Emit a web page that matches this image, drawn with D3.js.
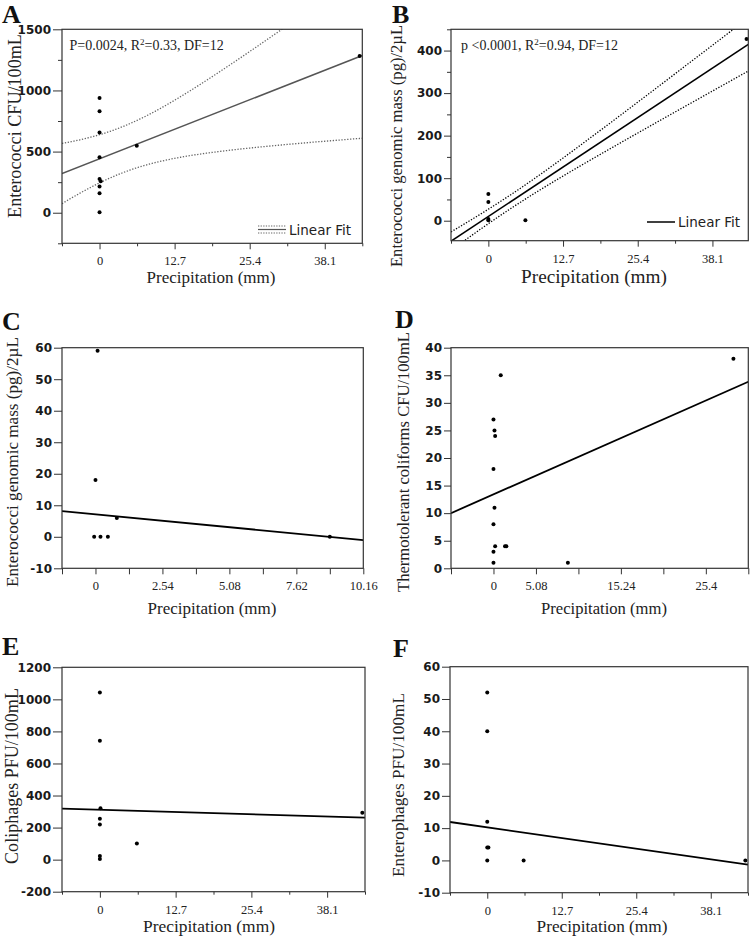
<!DOCTYPE html>
<html><head><meta charset="utf-8">
<script src="https://cdn.jsdelivr.net/npm/d3@7"></script>
<style>body{margin:0;background:#fff}svg{display:block}</style>
</head><body>
<svg id="chart" width="750" height="937"></svg>
<script>
// ---------- Panel A ----------
const precipA = [0, 0, 0, 0, 0, 0.2, 0, 0, 0, 6.3, 44.0];
const enteroCfuA = [939, 829, 657, 453, 276, 257, 215, 160, 3, 547, 1282];
const fitA = [441, 19.0];            // intercept, slope
const bandA = [188.5, 253, 3.6];     // half-width at mean, spread term, mean x
const yTicksA = [0, 500, 1000, 1500];
const yMinorA = [-250, 250, 750, 1250];
const xTicksA = [0, 12.7, 25.4, 38.1];
const xMinorA = [-6.35, 6.35, 19.05, 31.75, 44.45];

// ---------- Panel B ----------
const precipB = [0, 0, 0, 0, 6.3, 43.9];
const genomicB = [63, 44, 4, 1, 1, 427];
const fitB = [10, 9.15];
const bandB = [16.2, 2.2, 3.5];
const yTicksB = [0, 100, 200, 300, 400];
const yMinorB = [50, 150, 250, 350, 450];
const xTicksB = [0, 12.7, 25.4, 38.1];
const xMinorB = [-6.35, 6.35, 19.05, 31.75];

// ---------- Panel C ----------
const precipC = [-0.05, 0.19, 0.47, 0, 0.08, 0.81, 8.89];
const genomicC = [0, 0, 0, 18, 59, 6, 0];
const fitC = [7.1, -0.80];
const yTicksC = [-10, 0, 10, 20, 30, 40, 50, 60];
const xTicksC = [0, 2.54, 5.08, 7.62, 10.16];
const xMinorC = [-1.27, 1.27, 3.81, 6.35, 8.89];

// ---------- Panel D ----------
const precipD = [0, 0, 0, 0.12, 0, 0, 0.12, 0.2, 0.2, 0.87, 1.38, 1.54, 8.9, 28.7];
const thermoD = [1, 3, 8, 11, 18, 27, 25, 24, 4, 35, 4, 4, 1, 38];
const fitD = [13.4, 0.67];
const yTicksD = [0, 5, 10, 15, 20, 25, 30, 35, 40];
const xTicksD = [0, 5.08, 15.24, 25.4];
const xMinorD = [-5.08, 10.16, 20.32, 30.48];

// ---------- Panel E ----------
const precipE = [0, 0, 0.1, 0, 0, 0, 0, 6.2, 44.0];
const coliE = [1043, 741, 320, 255, 220, 23, 4, 100, 293];
const fitE = [311, -1.1];
const yTicksE = [-200, 0, 200, 400, 600, 800, 1000, 1200];
const xTicksE = [0, 12.7, 25.4, 38.1];
const xMinorE = [-6.35, 6.35, 19.05, 31.75, 44.45];

// ---------- Panel F ----------
const precipF = [0, 0, 0, 0, 0.2, 0, 6.2, 44.0];
const enterophF = [52, 40, 12, 4, 4, 0, 0, 0];
const fitF = [10.25, -0.26];
const yTicksF = [-10, 0, 10, 20, 30, 40, 50, 60];
const xTicksF = [0, 12.7, 25.4, 38.1];
const xMinorF = [-6.35, 6.35, 19.05, 31.75, 44.45];

const xTitle = "Precipitation (mm)";

const svg = d3.select("#chart");
const SERIF = "'Liberation Serif','Times New Roman',serif";
const SANS = "'DejaVu Sans',Verdana,sans-serif";

// scale a text's font size so that it spans the given length
function fitText(sel, target) {
  const n = sel.node();
  const fs = parseFloat(sel.attr("font-size"));
  const len = n.getComputedTextLength();
  if (len > 0) sel.attr("font-size", (fs * target / len).toFixed(2));
}

let clipId = 0;
function panel(cfg) {
  const g = svg.append("g");
  const x = d3.scaleLinear().domain(cfg.xDomain).range([cfg.fx0, cfg.fx1]);
  const y = d3.scaleLinear().domain(cfg.yDomain).range([cfg.fy1, cfg.fy0]);
  const id = "clip" + (clipId++);
  g.append("clipPath").attr("id", id).append("rect")
    .attr("x", cfg.fx0).attr("y", cfg.fy0)
    .attr("width", cfg.fx1 - cfg.fx0).attr("height", cfg.fy1 - cfg.fy0);

  const ya = g.append("g").attr("transform", `translate(${cfg.fx0},0)`)
    .call(d3.axisLeft(y).tickValues(cfg.yTicks).tickSize(cfg.yTickLen).tickPadding(2)
      .tickFormat(d => String(d)));
  ya.select(".domain").remove();
  ya.selectAll("text").attr("font-family", SANS).attr("font-weight", "bold")
    .attr("font-size", 12).attr("fill", "#1a1a1a");
  ya.selectAll("line").attr("stroke", "#333");
  if (cfg.yMinor) {
    const ym = g.append("g").attr("transform", `translate(${cfg.fx0},0)`)
      .call(d3.axisLeft(y).tickValues(cfg.yMinor).tickSize(4).tickFormat(""));
    ym.select(".domain").remove();
    ym.selectAll("line").attr("stroke", "#333");
  }
  const xa = g.append("g").attr("transform", `translate(0,${cfg.fy1})`)
    .call(d3.axisBottom(x).tickValues(cfg.xTicks).tickSize(6).tickPadding(7)
      .tickFormat(d => String(d)));
  xa.select(".domain").remove();
  xa.selectAll("text").attr("font-family", SERIF).attr("font-size", 12.5).attr("fill", "#222");
  xa.selectAll("line").attr("stroke", "#333");
  const xm = g.append("g").attr("transform", `translate(0,${cfg.fy1})`)
    .call(d3.axisBottom(x).tickValues(cfg.xMinor).tickSize(cfg.xMinorLen).tickFormat(""));
  xm.select(".domain").remove();
  xm.selectAll("line").attr("stroke", "#333");

  const lineCol = cfg.lineCol || "#000";
  if (cfg.band) {
    const [h0, b, xm0] = cfg.band;
    const xs = d3.range(0, 201).map(i => cfg.xDomain[0] + (cfg.xDomain[1] - cfg.xDomain[0]) * i / 200);
    const fit = v => cfg.fit[0] + cfg.fit[1] * v;
    const hw = v => Math.sqrt(h0 * h0 + b * (v - xm0) * (v - xm0));
    [1, -1].forEach(s => {
      g.append("path").attr("clip-path", `url(#${id})`)
        .attr("d", d3.line().x(v => x(v)).y(v => y(fit(v) + s * hw(v)))(xs))
        .attr("fill", "none").attr("stroke", cfg.bandCol || "#000")
        .attr("stroke-width", 1.3).attr("stroke-dasharray", "1.3,1.6");
    });
  }
  g.append("line").attr("clip-path", `url(#${id})`)
    .attr("x1", x(cfg.xDomain[0])).attr("y1", y(cfg.fit[0] + cfg.fit[1] * cfg.xDomain[0]))
    .attr("x2", x(cfg.xDomain[1])).attr("y2", y(cfg.fit[0] + cfg.fit[1] * cfg.xDomain[1]))
    .attr("stroke", lineCol).attr("stroke-width", cfg.lineW || 1.8);

  g.selectAll("circle.pt").data(cfg.xs.map((v, i) => [v, cfg.ys[i]])).join("circle")
    .attr("class", "pt").attr("cx", d => x(d[0])).attr("cy", d => y(d[1]))
    .attr("r", 2).attr("fill", "#000");

  g.append("rect").attr("x", cfg.fx0).attr("y", cfg.fy0)
    .attr("width", cfg.fx1 - cfg.fx0).attr("height", cfg.fy1 - cfg.fy0)
    .attr("fill", "none").attr("stroke", "#333").attr("stroke-width", 1.2);

  const yt = g.append("text").attr("transform", `translate(${cfg.ytX},${cfg.ytY}) rotate(-90)`)
    .attr("text-anchor", "middle").attr("font-family", SERIF).attr("font-size", 17)
    .attr("fill", "#222").text(cfg.yTitle);
  fitText(yt, cfg.ytLen);
  const xt = g.append("text").attr("x", cfg.xtX).attr("y", cfg.xtY).attr("text-anchor", "middle")
    .attr("font-family", SERIF).attr("font-size", 17).attr("fill", "#222").text(xTitle);
  fitText(xt, cfg.xtLen);
  g.append("text").attr("x", cfg.letterX).attr("y", cfg.letterY)
    .attr("font-family", SERIF).attr("font-weight", "bold").attr("font-size", 26)
    .attr("fill", "#111").text(cfg.letter);

  if (cfg.stat) {
    const t = g.append("text").attr("x", cfg.statX).attr("y", cfg.statY)
      .attr("font-family", SERIF).attr("font-size", 14).attr("fill", "#222");
    t.append("tspan").text(cfg.stat[0]);
    t.append("tspan").attr("dy", -5).attr("font-size", 9).text("2");
    t.append("tspan").attr("dy", 5).text(cfg.stat[1]);
  }
  if (cfg.legend) {
    const L = cfg.legend;
    if (L.band) {
      g.append("line").attr("x1", L.x0).attr("x2", L.x1).attr("y1", L.y - 3.5).attr("y2", L.y - 3.5)
        .attr("stroke", cfg.bandCol).attr("stroke-width", 1.2).attr("stroke-dasharray", "1.3,1.3");
      g.append("line").attr("x1", L.x0).attr("x2", L.x1).attr("y1", L.y).attr("y2", L.y)
        .attr("stroke", lineCol).attr("stroke-width", 1.2);
      g.append("line").attr("x1", L.x0).attr("x2", L.x1).attr("y1", L.y + 3.5).attr("y2", L.y + 3.5)
        .attr("stroke", cfg.bandCol).attr("stroke-width", 1.2).attr("stroke-dasharray", "1.3,1.3");
    } else {
      g.append("line").attr("x1", L.x0).attr("x2", L.x1).attr("y1", L.y).attr("y2", L.y)
        .attr("stroke", lineCol).attr("stroke-width", 1.5);
    }
    g.append("text").attr("x", L.x1 + 3).attr("y", L.y + 5).attr("font-family", SANS)
      .attr("font-size", 13.5).attr("fill", "#222").text("Linear Fit");
  }
}

panel({letter: "A", letterX: 2, letterY: 23.3,
  fx0: 62, fx1: 362.3, fy0: 29.3, fy1: 243.3,
  xDomain: [-6.35, 44.45], yDomain: [-250, 1500],
  xs: precipA, ys: enteroCfuA, fit: fitA, band: bandA, lineCol: "#555", bandCol: "#666", lineW: 1.5,
  yTicks: yTicksA, yMinor: yMinorA, yTickLen: 9, xTicks: xTicksA, xMinor: xMinorA, xMinorLen: 3,
  yTitle: "Enterococci CFU/100mL", ytX: 21, ytY: 126, ytLen: 184,
  xtX: 211, xtY: 283, xtLen: 129,
  stat: ["P=0.0024, R", "=0.33, DF=12"], statX: 69.5, statY: 50,
  legend: {band: true, x0: 258, x1: 286, y: 229.5}});

panel({letter: "B", letterX: 392, letterY: 23.3,
  fx0: 451, fx1: 748.3, fy0: 29.3, fy1: 240.7,
  xDomain: [-6.35, 44.2], yDomain: [-47, 450],
  xs: precipB, ys: genomicB, fit: fitB, band: bandB, lineCol: "#000", bandCol: "#000", lineW: 1.6,
  yTicks: yTicksB, yMinor: yMinorB, yTickLen: 7, xTicks: xTicksB, xMinor: xMinorB, xMinorLen: 3,
  yTitle: "Enterococci genomic mass (pg)/2\u00b5L", ytX: 402, ytY: 146, ytLen: 242,
  xtX: 594, xtY: 283, xtLen: 146,
  stat: ["p <0.0001, R", "=0.94, DF=12"], statX: 461, statY: 49.5,
  legend: {band: false, x0: 647, x1: 675, y: 222}});

panel({letter: "C", letterX: 2, letterY: 330,
  fx0: 62, fx1: 363.3, fy0: 347.7, fy1: 568.3,
  xDomain: [-1.27, 10.16], yDomain: [-10, 60],
  xs: precipC, ys: genomicC, fit: fitC,
  yTicks: yTicksC, yTickLen: 8, xTicks: xTicksC, xMinor: xMinorC, xMinorLen: 6,
  yTitle: "Enterococci genomic mass (pg)/2\u00b5L", ytX: 18, ytY: 462, ytLen: 250,
  xtX: 212, xtY: 614, xtLen: 129});

panel({letter: "D", letterX: 395, letterY: 328,
  fx0: 451, fx1: 748.3, fy0: 347.7, fy1: 568.3,
  xDomain: [-5.08, 30.48], yDomain: [0, 40],
  xs: precipD, ys: thermoD, fit: fitD,
  yTicks: yTicksD, yTickLen: 7, xTicks: xTicksD, xMinor: xMinorD, xMinorLen: 6,
  yTitle: "Thermotolerant coliforms CFU/100mL", ytX: 409, ytY: 462, ytLen: 260,
  xtX: 604, xtY: 614, xtLen: 126});

panel({letter: "E", letterX: 2, letterY: 655,
  fx0: 62, fx1: 365, fy0: 667.3, fy1: 891.7,
  xDomain: [-6.35, 44.45], yDomain: [-200, 1200],
  xs: precipE, ys: coliE, fit: fitE,
  yTicks: yTicksE, yTickLen: 9, xTicks: xTicksE, xMinor: xMinorE, xMinorLen: 3,
  yTitle: "Coliphages PFU/100mL", ytX: 18, ytY: 776, ytLen: 176,
  xtX: 209, xtY: 932, xtLen: 132});

panel({letter: "F", letterX: 393, letterY: 657,
  fx0: 450, fx1: 748, fy0: 666.7, fy1: 892.7,
  xDomain: [-6.35, 44.45], yDomain: [-10, 60],
  xs: precipF, ys: enterophF, fit: fitF,
  yTicks: yTicksF, yTickLen: 8, xTicks: xTicksF, xMinor: xMinorF, xMinorLen: 3,
  yTitle: "Enterophages PFU/100mL", ytX: 404, ytY: 785, ytLen: 184,
  xtX: 602, xtY: 932, xtLen: 131});
</script>
</body></html>
